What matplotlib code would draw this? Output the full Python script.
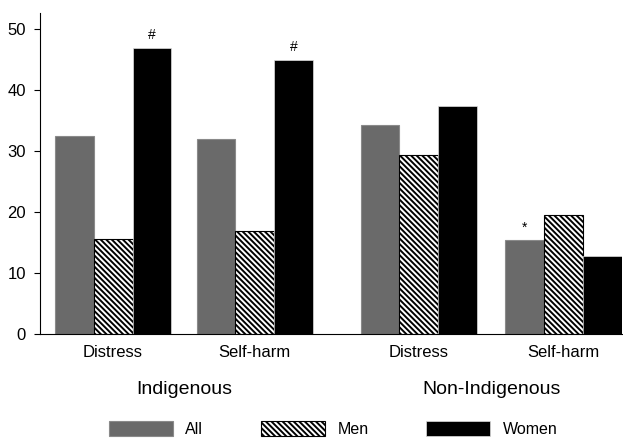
import numpy as np
import matplotlib
matplotlib.use("Agg")
import matplotlib.pyplot as plt

plt.rcParams["font.family"] = ["Liberation Sans", "DejaVu Sans"]
plt.rcParams["hatch.linewidth"] = 1.4

# data
groups = ["Indigenous", "Non-Indigenous"]
outcomes = ["Distress", "Self-harm", "Distress", "Self-harm"]
series = ["All", "Men", "Women"]
all_vals = [32.5, 32.0, 34.3, 15.4]
men_vals = [15.6, 16.9, 29.3, 19.5]
women_vals = [46.9, 44.9, 37.3, 12.7]
# (bar index, series, symbol)
marks = [(0, "Women", "#"), (1, "Women", "#"), (3, "All", "*")]

# layout / style
x = np.array([0, 3.65, 7.88, 11.61])
width = 1.0
styles = {
    "All": dict(color="#6a6a6a", edgecolor="#8a8a8a", linewidth=0.8),
    "Men": dict(color="white", edgecolor="black", hatch="\\" * 6, linewidth=0.8),
    "Women": dict(color="black", edgecolor="#dddddd", linewidth=0.5),
}
values = {"All": all_vals, "Men": men_vals, "Women": women_vals}

fig = plt.figure(figsize=(6.23, 4.38), dpi=100)
ax = fig.add_axes([40 / 623, 1 - 334 / 438, 582 / 623, 321 / 438])

for i, s in enumerate(series):
    ax.bar(x + (i - 1) * width, values[s], width, label=s, **styles[s])

for idx, s, sym in marks:
    i = series.index(s)
    ax.annotate(sym, (x[idx] + (i - 1) * width, values[s][idx]),
                xytext=(0, 4), textcoords="offset points",
                ha="center", va="bottom", fontsize=10)

ax.set_xlim(-1.885, 13.12)
ax.set_ylim(0, 52.6)
ax.set_yticks([0, 10, 20, 30, 40, 50])
ax.set_xticks(x, outcomes)
ax.tick_params(axis="x", length=0, pad=8, labelsize=12)
ax.tick_params(axis="y", length=4, width=0.8, labelsize=12, pad=6)
for sp in ["top", "right"]:
    ax.spines[sp].set_visible(False)
for sp in ["left", "bottom"]:
    ax.spines[sp].set_linewidth(0.8)

# population labels under the pairs
for g, name in enumerate(groups):
    ax.text(x[2 * g:2 * g + 2].mean(), -0.174, name, transform=ax.get_xaxis_transform(),
            ha="center", va="center", fontsize=14)

fig.legend(loc="center", bbox_to_anchor=(333 / 623, 1 - 429 / 438), ncol=3,
           frameon=False, fontsize=11.5, handlelength=4.0, handleheight=1.05,
           handletextpad=0.8, columnspacing=3.6, borderpad=0)

fig.savefig("out.png", dpi=100)
